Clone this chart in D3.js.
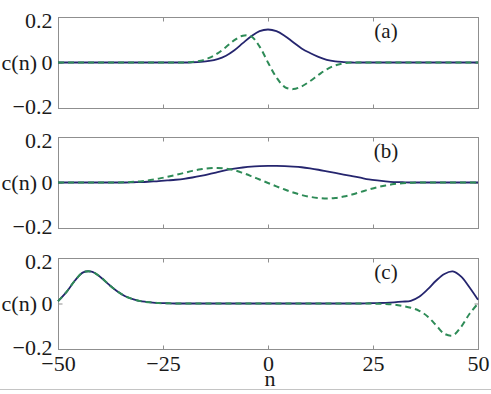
<!DOCTYPE html>
<html>
<head>
<meta charset="utf-8">
<script src="https://cdn.jsdelivr.net/npm/d3@7"></script>
<style>
    body { margin: 0; background: #fff; }
    #svg_waves { display: block; }
    text { font-family: "Liberation Serif", "Times New Roman", serif; fill: #1a1a1a; }
</style>
</head>
<body>
<svg id="svg_waves" width="491" height="394"></svg>
<script>
// c(n) profiles, three stacked cases: solid and dashed components

/* Data (n step 2) */

const nValues = [-50, -48, -46, -44, -42, -40, -38, -36, -34, -32, -30, -28, -26, -24, -22, -20, -18, -16, -14, -12, -10, -8, -6, -4, -2,
                 0, 2, 4, 6, 8, 10, 12, 14, 16, 18, 20, 22, 24, 26, 28, 30, 32, 34, 36, 38, 40, 42, 44, 46, 48, 50];

// (a)
const solidA = [0, 0, 0, 0, 0, 0, 0, 0, 0, 0, 0, 0, 0, 0, 0, 0,
                0.001, 0.003, 0.007, 0.015, 0.030, 0.054, 0.085, 0.115, 0.138, 0.145, 0.138, 0.117, 0.089, 0.062, 0.042, 0.025, 0.012, 0.005, 0.002,
                0, 0, 0, 0, 0, 0, 0, 0, 0, 0, 0, 0, 0, 0, 0, 0];
const dashedA = [0, 0, 0, 0, 0, 0, 0, 0, 0, 0, 0, 0, 0, 0, 0, 0,
                 0.002, 0.008, 0.020, 0.040, 0.068, 0.098, 0.118, 0.115, 0.070, 0.000, -0.065, -0.108, -0.117, -0.105, -0.082, -0.055, -0.030, -0.013, -0.004,
                 0, 0, 0, 0, 0, 0, 0, 0, 0, 0, 0, 0, 0, 0, 0, 0];

// (b)
const solidB = [0, 0, 0, 0, 0, 0, 0, 0, 0,
                0.001, 0.002, 0.004, 0.006, 0.009, 0.012, 0.016, 0.022, 0.029, 0.037, 0.046, 0.054, 0.061, 0.066, 0.070, 0.072,
                0.073, 0.073, 0.072, 0.070, 0.067, 0.062, 0.056, 0.049, 0.042, 0.035, 0.028, 0.021, 0.014, 0.009, 0.005, 0.002, 0.001,
                0, 0, 0, 0, 0, 0, 0, 0, 0];
const dashedB = [0, 0, 0, 0, 0, 0, 0, 0,
                 0.001, 0.003, 0.006, 0.011, 0.017, 0.025, 0.033, 0.042, 0.051, 0.058, 0.063, 0.064, 0.061, 0.054, 0.042, 0.028, 0.013,
                 -0.002, -0.017, -0.031, -0.044, -0.055, -0.063, -0.068, -0.070, -0.068, -0.062, -0.053, -0.042, -0.031, -0.021, -0.013, -0.007, -0.003, -0.001,
                 0, 0, 0, 0, 0, 0, 0, 0];

// (c)
const solidC = [0.010, 0.050, 0.100, 0.137, 0.140, 0.118, 0.085, 0.055, 0.032, 0.018, 0.009, 0.005, 0.002, 0.001,
                0, 0, 0, 0, 0, 0, 0, 0, 0, 0, 0, 0, 0, 0, 0, 0, 0, 0, 0, 0, 0, 0, 0,
                0.001, 0.002, 0.003, 0.005, 0.008, 0.012, 0.030, 0.062, 0.100, 0.130, 0.141, 0.118, 0.070, 0.016];
const dashedC = [0.010, 0.050, 0.100, 0.137, 0.140, 0.118, 0.085, 0.055, 0.032, 0.018, 0.009, 0.005, 0.002, 0.001,
                 0, 0, 0, 0, 0, 0, 0, 0, 0, 0, 0, 0, 0, 0, 0, 0, 0, 0, 0, 0, 0, 0, 0, 0,
                 -0.001, -0.002, -0.005, -0.011, -0.019, -0.032, -0.057, -0.095, -0.133, -0.140, -0.102, -0.045, 0.000];

const panelLabels = ['(a)', '(b)', '(c)'];
const xTickValues = [-50, -25, 0, 25, 50];
const yTickValues = [-0.2, 0, 0.2];
const xLabel = 'n';
const yLabel = 'c(n)';

class WavePanels {

    constructor() {

        this.svg = d3.select('#svg_waves');

        this.panels = [
            { label: panelLabels[0], solid: solidA, dashed: dashedA, top: 17 },
            { label: panelLabels[1], solid: solidB, dashed: dashedB, top: 137 },
            { label: panelLabels[2], solid: solidC, dashed: dashedC, top: 258 }
        ];
        this.panelHeight = 91;

        // X-Scale shared by all three panels
        this.xScale = d3.scaleLinear()
                        .domain([-50, 50])
                        .range([58, 478]);

        this.frameColor = '#8f8f8f';
        this.solidColor = '#25256e';
        this.dashedColor = '#2e8b57';
    }

    draw() {
        this.panels.forEach((p, i) => this.drawPanel(p, i === this.panels.length - 1));

        // n label below the last panel
        this.svg.append('text')
           .attr('x', this.xScale(0) + 2)
           .attr('y', 386)
           .attr('text-anchor', 'middle')
           .style('font-size', '22px')
           .text(xLabel);

        // thin rule along the bottom of the figure
        this.svg.append('line')
           .attr('x1', 0).attr('x2', 491)
           .attr('y1', 389.5).attr('y2', 389.5)
           .attr('stroke', '#c4c4c4')
           .attr('stroke-width', 1);
    }

    drawPanel(panel, isLast) {

        let svg = this.svg;
        let x = this.xScale;
        let top = panel.top;
        let bottom = top + this.panelHeight;

        let y = d3.scaleLinear()
                  .domain([-0.2, 0.2])
                  .range([bottom, top]);

        let g = svg.append('g').attr('class', 'panel');

        // Frame
        g.append('rect')
         .attr('x', x.range()[0] + 0.5)
         .attr('y', top + 0.5)
         .attr('width', x.range()[1] - x.range()[0])
         .attr('height', this.panelHeight)
         .attr('fill', 'none')
         .attr('stroke', this.frameColor);

        let fmt = d3.format('');

        // Axes (ticks point inwards)
        let bottomAxis = d3.axisBottom(x)
                           .tickValues(xTickValues)
                           .tickSize(-4)
                           .tickSizeOuter(0)
                           .tickPadding(6)
                           .tickFormat(isLast ? fmt : '');
        let topAxis = d3.axisTop(x)
                        .tickValues(xTickValues)
                        .tickSize(-4)
                        .tickSizeOuter(0)
                        .tickFormat('');
        let leftAxis = d3.axisLeft(y)
                         .tickValues(yTickValues)
                         .tickSize(-4)
                         .tickSizeOuter(0)
                         .tickPadding(6)
                         .tickFormat(fmt);
        let rightAxis = d3.axisRight(y)
                          .tickValues(yTickValues)
                          .tickSize(-4)
                          .tickSizeOuter(0)
                          .tickFormat('');

        let axes = [
            [bottomAxis, `translate(0, ${bottom + 0.5})`],
            [topAxis, `translate(0, ${top + 0.5})`],
            [leftAxis, `translate(${x.range()[0] + 0.5}, 0)`],
            [rightAxis, `translate(${x.range()[1] + 0.5}, 0)`]
        ];

        axes.forEach(([axis, tr]) => {
            let a = g.append('g')
                     .attr('transform', tr)
                     .call(axis);
            a.select('.domain').remove();
            a.selectAll('.tick line').attr('stroke', this.frameColor);
            a.selectAll('.tick text')
             .style('font-size', '22px')
             .attr('fill', '#1a1a1a');
            a.attr('font-family', null).attr('font-size', null);
        });

        // nudge the end labels a little toward the middle, as in the figure
        g.selectAll('.tick text')
         .filter(d => yTickValues.includes(d) && d !== 0)
         .attr('dy', d => d > 0 ? '0.48em' : '0.24em');

        // c(n) label
        g.append('text')
         .attr('x', 37)
         .attr('y', y(0))
         .attr('dy', '0.32em')
         .attr('text-anchor', 'end')
         .style('font-size', '22px')
         .text(yLabel);

        // Panel tag
        g.append('text')
         .attr('x', 386)
         .attr('y', top + 21)
         .attr('text-anchor', 'middle')
         .style('font-size', '21px')
         .text(panel.label);

        // Lines
        let line = d3.line()
                     .x(d => x(d.n))
                     .y(d => y(d.v))
                     .curve(d3.curveCatmullRom.alpha(0.5));

        let solidData = nValues.map((n, i) => ({ n: n, v: panel.solid[i] }));
        let dashedData = nValues.map((n, i) => ({ n: n, v: panel.dashed[i] }));

        g.append('path')
         .datum(solidData)
         .attr('fill', 'none')
         .attr('stroke', this.solidColor)
         .attr('stroke-width', 1.8)
         .attr('d', line);

        g.append('path')
         .datum(dashedData)
         .attr('fill', 'none')
         .attr('stroke', this.dashedColor)
         .attr('stroke-width', 2)
         .attr('stroke-dasharray', '6,4')
         .attr('d', line);
    }
}

let chart = new WavePanels();
chart.draw();
</script>
</body>
</html>
